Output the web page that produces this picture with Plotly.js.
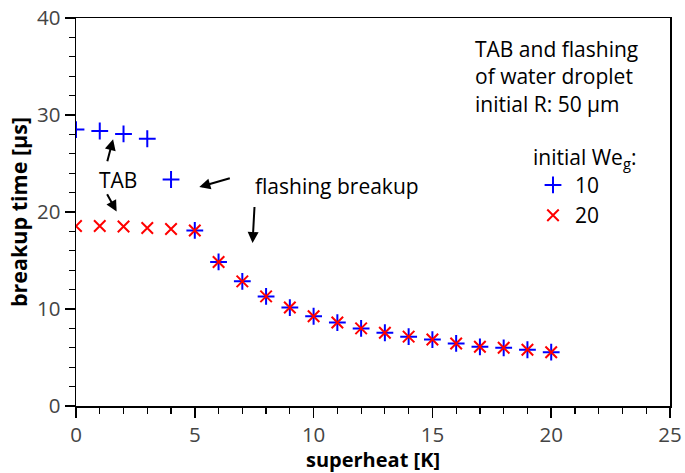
<!DOCTYPE html>
<html><head><meta charset="utf-8">
<script src="https://cdn.plot.ly/plotly-3.0.1.min.js"></script>
<style>html,body{margin:0;padding:0;background:#fff}</style>
</head><body>
<div id="chart" style="width:685px;height:473px"></div>
<script>
const superheat = [0,1,2,3,4,5,6,7,8,9,10,11,12,13,14,15,16,17,18,19,20];
const tWe10 = [28.5,28.35,28.05,27.55,23.35,18.1,14.85,12.85,11.3,10.15,9.25,8.6,8.0,7.55,7.15,6.85,6.45,6.1,6.0,5.8,5.55];
const tWe20 = [18.55,18.55,18.5,18.35,18.25,18.1,14.85,12.85,11.3,10.15,9.25,8.6,8.0,7.55,7.15,6.85,6.45,6.1,6.0,5.8,5.55];
const seriesNames = ['10','20'];
const xTitle = 'superheat [K]';
const yTitle = 'breakup time [µs]';
const infoText = 'TAB and flashing<br>of water droplet<br>initial R: 50 µm';
const legendTitle = 'initial We<sub>g</sub>:';
const tabLabel = 'TAB';
const flashLabel = 'flashing breakup';

const FONT = 'Open Sans, Noto Sans, sans-serif';
const traces = [
  {x: superheat, y: tWe10, name: seriesNames[0], mode: 'markers', type: 'scatter',
   marker: {symbol: 'cross-thin', size: 12, line: {color: '#0000ff', width: 2}, color: '#0000ff'}},
  {x: superheat, y: tWe20, name: seriesNames[1], mode: 'markers', type: 'scatter',
   marker: {symbol: 'x-thin', size: 11.5, line: {color: '#ff0000', width: 2}, color: '#ff0000'}}
];
const arrow = (x, y, ax, ay) => ({x, y, ax, ay, xref: 'x', yref: 'y', text: ' ', borderpad: 0,
  showarrow: true, arrowhead: 2, arrowsize: 1.1, arrowwidth: 2, arrowcolor: '#000',
  font: {family: FONT, size: 1, color: '#000'}});
const label = (x, y, text, xanchor) => ({x, y, xref: 'x', yref: 'y', xanchor: xanchor, yanchor: 'middle',
  showarrow: false, text: text, font: {family: FONT, size: 21, color: '#000'}});
const layout = {
  width: 685, height: 473,
  margin: {l: 76, r: 15, t: 18, b: 66.5},
  paper_bgcolor: '#fff', plot_bgcolor: '#fff',
  font: {family: FONT, size: 21, color: '#444'},
  xaxis: {range: [0, 25], dtick: 5, ticks: 'outside', ticklen: 10, tickwidth: 1.5, tickcolor: '#000',
    showline: true, linecolor: '#000', linewidth: 1.5, mirror: true, showgrid: false, zeroline: false,
    minor: {dtick: 1, ticks: 'outside', ticklen: 6, tickwidth: 1.2, tickcolor: '#000', showgrid: false},
    tickfont: {family: FONT, size: 20.5, color: '#444'},
    title: {text: '<b>' + xTitle + '</b>', font: {family: FONT, size: 20, color: '#000'}, standoff: 6}},
  yaxis: {range: [0, 40], dtick: 10, ticks: 'outside', ticklen: 10, tickwidth: 1.5, tickcolor: '#000',
    showline: true, linecolor: '#000', linewidth: 1.5, mirror: true, showgrid: false, zeroline: false,
    minor: {dtick: 2, ticks: 'outside', ticklen: 6, tickwidth: 1.2, tickcolor: '#000', showgrid: false},
    tickfont: {family: FONT, size: 20.5, color: '#444'},
    title: {text: '<b>' + yTitle + '</b>', font: {family: FONT, size: 21.5, color: '#000'}, standoff: 3}},
  showlegend: true,
  legend: {x: 0.766, y: 0.692, xanchor: 'left', yanchor: 'top', bgcolor: 'rgba(0,0,0,0)', itemwidth: 34,
    font: {family: FONT, size: 21, color: '#000'},
    title: {text: legendTitle, font: {family: FONT, size: 21, color: '#000'}}},
  annotations: [
    {x: 0.668, y: 0.962, xref: 'paper', yref: 'paper', xanchor: 'left', yanchor: 'top', align: 'left',
     showarrow: false, text: infoText, font: {family: FONT, size: 21, color: '#000'}},
    label(1.77, 23.33, tabLabel, 'center'),
    label(7.45, 22.7, flashLabel, 'left'),
    arrow(1.56, 27.5, -6, 23),
    arrow(1.71, 20.06, -10, -18),
    arrow(5.19, 22.57, 31, -9),
    arrow(7.43, 16.8, 2, -37)
  ]
};
Plotly.newPlot('chart', traces, layout, {staticPlot: true, displayModeBar: false});
</script>
</body></html>
